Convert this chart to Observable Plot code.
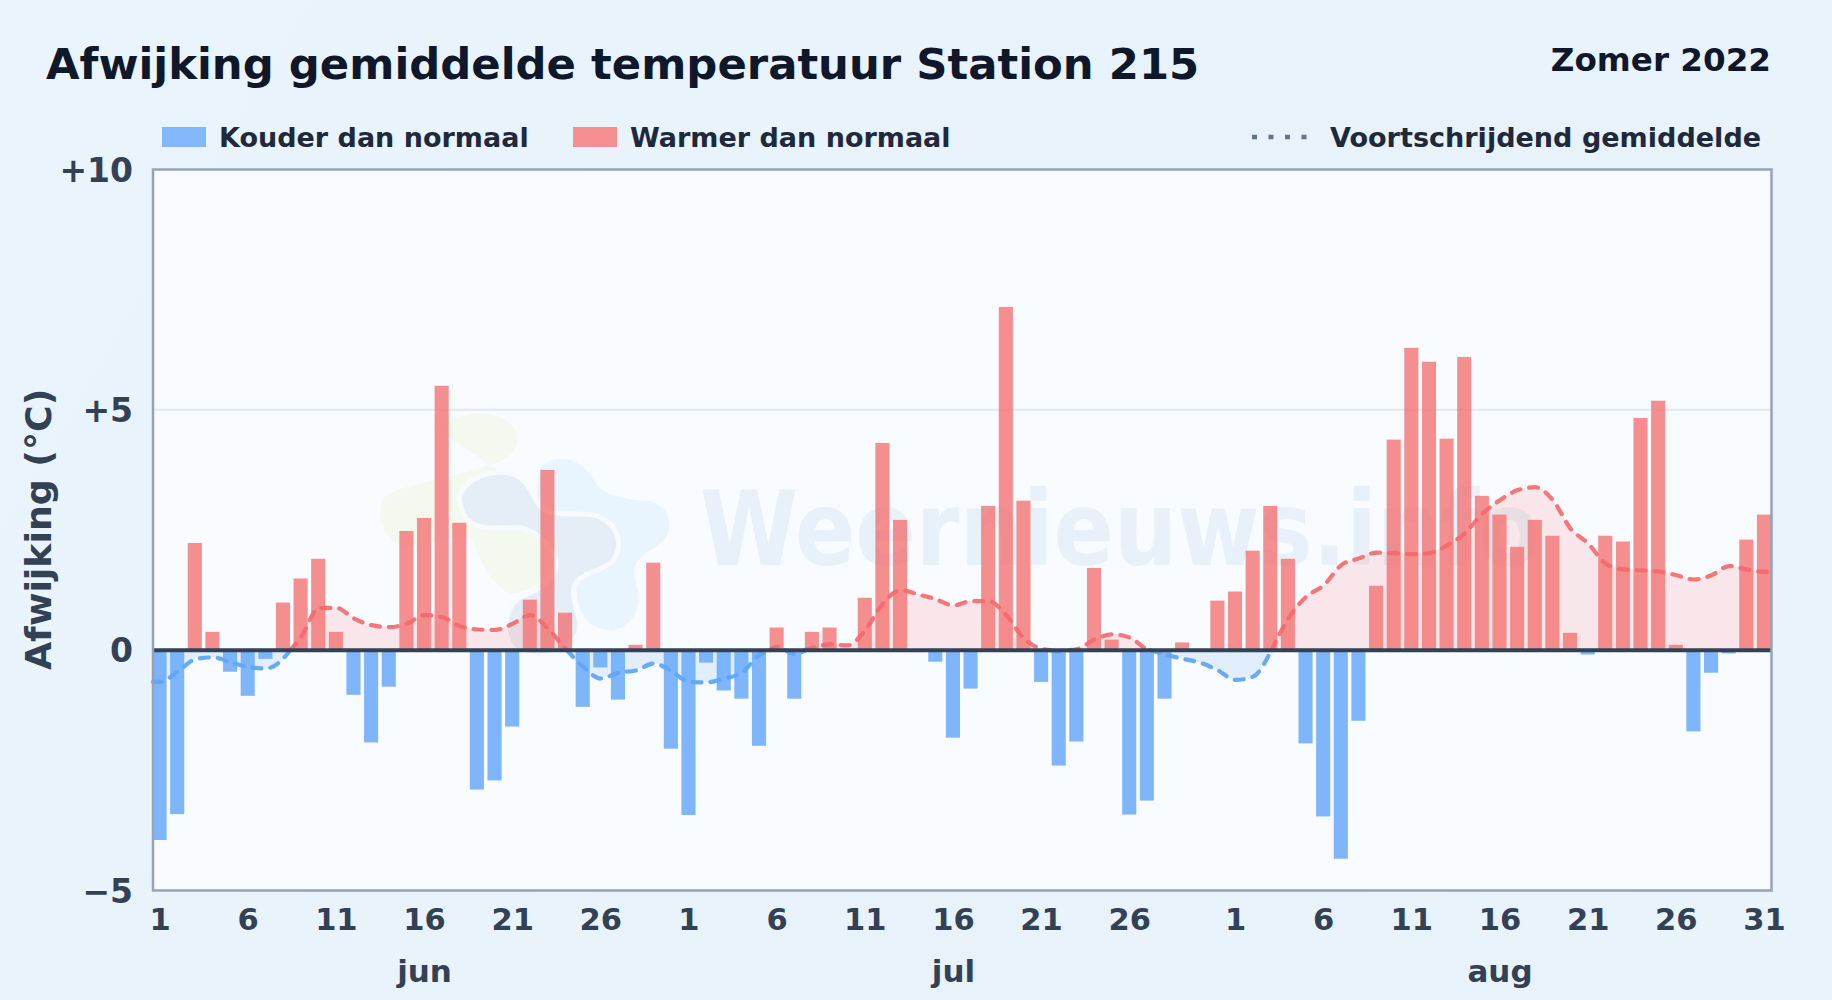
<!DOCTYPE html>
<html><head><meta charset="utf-8">
<script src="https://cdn.jsdelivr.net/npm/d3@7"></script>
<script src="https://cdn.jsdelivr.net/npm/@observablehq/plot@0.6"></script>
<style>
html,body{margin:0;padding:0;width:1832px;height:1000px;overflow:hidden;background:linear-gradient(120deg,#e9f4fc,#e7f2fb 60%,#e9f3fc);font-family:"DejaVu Sans",sans-serif;font-weight:bold}
.t{position:absolute;white-space:nowrap;line-height:1}
.sw{position:absolute;width:44px;height:20px;top:127px}
#chart{position:absolute;left:0;top:129px}
</style></head><body>
<div class="t" style="left:46px;top:43px;font-size:43.35px;color:#0f172a" id="title">Afwijking gemiddelde temperatuur Station 215</div>
<div class="t" style="right:61px;top:44px;font-size:32.6px;color:#0f172a" id="sub">Zomer 2022</div>
<div class="sw" style="left:162px;background:#82b7fb"></div>
<div class="t" style="left:219px;top:124px;font-size:27px;color:#1e293b">Kouder dan normaal</div>
<div class="sw" style="left:573px;background:#f58f90"></div>
<div class="t" style="left:630px;top:124px;font-size:27px;color:#1e293b">Warmer dan normaal</div>
<svg style="position:absolute;left:1250px;top:130px" width="60" height="14"><line x1="2" x2="58" y1="7" y2="7" stroke="#64748b" stroke-width="4.5" stroke-dasharray="5 11.5"/></svg>
<div class="t" style="left:1330px;top:124px;font-size:27.05px;color:#1e293b">Voortschrijdend gemiddelde</div>
<div id="chart"></div>
<script>
const monthNames = ["jun","jul","aug"];
const monthLengths = [30,31,31];
const tickDays = [[1,6,11,16,21,26],[1,6,11,16,21,26],[1,6,11,16,21,26,31]];
const yTicks = [10,5,0,-5];

const deviationJun = [-3.96,-3.42,2.22,0.37,-0.46,-0.96,-0.19,0.98,1.48,1.89,0.37,-0.94,-1.93,-0.77,2.47,2.74,5.49,2.64,-2.91,-2.72,-1.60,1.04,3.74,0.77,-1.19,-0.37,-1.04,0.10,1.81,-2.06];
const deviationJul = [-3.44,-0.27,-0.85,-1.02,-2.00,0.46,-1.02,0.37,0.46,0,1.08,4.30,2.70,-0.05,-0.25,-1.83,-0.81,2.99,7.13,3.10,-0.67,-2.41,-1.91,1.70,0.21,-3.43,-3.14,-1.02,0.15,0,1.02];
const deviationAug = [1.21,2.06,2.99,1.89,-1.95,-3.47,-4.35,-1.48,1.33,4.37,6.28,5.99,4.39,6.09,3.20,2.81,2.14,2.70,2.37,0.35,-0.10,2.37,2.25,4.82,5.18,0.10,-1.70,-0.48,-0.08,2.29,2.81];

const meanJun = [-0.66,-0.45,-0.19,-0.15,-0.25,-0.35,-0.38,-0.17,0.28,0.87,0.88,0.66,0.52,0.48,0.55,0.73,0.69,0.50,0.43,0.42,0.55,0.73,0.45,0.03,-0.35,-0.59,-0.47,-0.42,-0.28,-0.43];
const meanJul = [-0.66,-0.67,-0.59,-0.47,-0.10,0.07,-0.08,0.05,0.12,0.10,0.42,0.97,1.25,1.16,1.06,0.93,1.02,1.02,0.73,0.24,0.03,-0.03,0.02,0.22,0.33,0.26,0.02,-0.09,-0.18,-0.26,-0.42];
const meanAug = [-0.62,-0.55,-0.03,0.66,1.11,1.35,1.77,1.91,2.03,2.02,2.00,2.02,2.18,2.43,2.84,3.12,3.33,3.39,3.12,2.53,2.22,1.80,1.68,1.66,1.64,1.56,1.47,1.56,1.75,1.68,1.63];

const barSpan = 0.8;                       // bar width relative to the step between days
const deviations = [...deviationJun,...deviationJul,...deviationAug];
const means = [...meanJun,...meanJul,...meanAug];
const xMax = deviations.length - 1 + barSpan;
const bars = deviations.map((v,i)=>({x1:i,x2:i+barSpan,v}));
const center = i => i + barSpan/2;

// month starts
const starts = d3.cumsum([0,...monthLengths]);
const axisTicks = [], axisLabels = new Map();
tickDays.forEach((days,m)=>days.forEach(d=>{const x=center(starts[m]+d-1);axisTicks.push(x);axisLabels.set(x,String(d));}));
const monthLabels = monthNames.map((name,m)=>({name,x:center(starts[m]+15)}));

// moving average, reaching both plot edges, split into runs of one sign at each zero crossing
const raw = [{x:0,v:means[0]},...means.map((v,i)=>({x:center(i),v})),{x:xMax,v:means[means.length-1]}];
const runs = []; let seg = 0;
raw.forEach((p,i)=>{
  if(i>0){
    const q = raw[i-1];
    if(q.v*p.v<0){
      const xc = q.x + (p.x-q.x)*(-q.v)/(p.v-q.v);
      runs.push({x:xc,v:0,seg});
      seg++;
      runs.push({x:xc,v:0,seg});
    }
  }
  runs.push({x:p.x,v:p.v,seg});
});
const segPos = new Map(); runs.forEach(r=>{if(r.v!==0)segPos.set(r.seg,r.v>0)});
const warm = runs.filter(r=>segPos.get(r.seg));
const cold = runs.filter(r=>!segPos.get(r.seg));

const watermark = ()=>{
  const ns="http://www.w3.org/2000/svg";
  const g=document.createElementNS(ns,"g");
  // brand logo and name behind the data, placed in frame pixels
  g.innerHTML=`
  <text x="700" y="436" text-anchor="start" font-family="DejaVu Sans" font-weight="bold" font-size="104" fill="#e8f1f9" textLength="840" lengthAdjust="spacingAndGlyphs">Weernieuws.info</text>
  <g transform="translate(360,261) scale(0.3333)">
   <path fill="#f3f9ef" d="M235,120 C280,60 440,45 470,130 C485,205 400,225 300,250 C250,275 130,280 75,320 C40,370 70,450 130,470 C200,470 300,420 340,450 C360,520 400,590 450,610 C520,610 560,560 590,520 L500,300 Z"/>
   <path fill="#e8f4fe" d="M540,235 C570,195 660,190 700,270 C730,320 800,330 870,332 C930,350 950,420 900,460 C860,490 810,510 825,570 C850,640 830,700 760,722 C690,720 650,670 650,600 L520,400 Z"/>
   <path fill="#e5edf7" stroke="#f7fbff" stroke-width="30" paint-order="stroke" d="M305,330 C310,280 380,250 440,255 C500,265 510,320 535,355 C580,395 660,370 710,385 C770,410 785,470 750,510 C710,545 650,540 635,590 C625,640 660,680 650,725 C620,790 520,810 465,770 C430,730 440,650 490,625 C550,600 600,570 595,510 C580,460 540,420 480,405 C420,405 340,420 315,365 Z"/>
  </g>`;
  return g;
};

const curve = "monotone-x";
const dash = "9 9";
const chart = Plot.plot({
  width:1832, height:871,
  marginLeft:152.5, marginRight:61, marginTop:40, marginBottom:110,
  style:{background:"transparent",fontFamily:"DejaVu Sans",fontWeight:"bold",overflow:"visible"},
  x:{domain:[0,xMax]},
  y:{domain:[-5,10]},
  marks:[
    Plot.frame({fill:"#f8fbff",stroke:null}),
    watermark,
    Plot.ruleY([5],{stroke:"#e2e8ee",strokeWidth:2}),
    Plot.areaY(warm,{x:"x",y:"v",z:"seg",fill:"#f87171",fillOpacity:0.15,curve}),
    Plot.areaY(cold,{x:"x",y:"v",z:"seg",fill:"#60a5fa",fillOpacity:0.15,curve}),
    Plot.rectY(bars.filter(d=>d.v>0),{x1:"x1",x2:"x2",y1:0,y2:"v",fill:"#f37070",fillOpacity:0.78}),
    Plot.rectY(bars.filter(d=>d.v<0),{x1:"x1",x2:"x2",y1:0,y2:"v",fill:"#60a5fa",fillOpacity:0.8}),
    Plot.line(warm,{x:"x",y:"v",z:"seg",stroke:"#f4686c",strokeWidth:4.2,strokeDasharray:dash,strokeLinecap:"round",strokeOpacity:0.9,curve}),
    Plot.line(cold,{x:"x",y:"v",z:"seg",stroke:"#60a5fa",strokeWidth:4.2,strokeDasharray:dash,strokeLinecap:"round",strokeOpacity:0.95,curve}),
    Plot.ruleY([0],{stroke:"#334155",strokeWidth:4}),
    Plot.frame({stroke:"#94a3b8",strokeWidth:2.5}),
    Plot.axisY(yTicks,{tickSize:0,tickPadding:20,fontSize:33,dy:1.5,fill:"#334155",label:null,
      tickFormat:d=>d>0?"+"+d:d<0?"\u2212"+(-d):"0"}),
    Plot.axisX(axisTicks,{tickSize:0,tickPadding:18,fontSize:30.5,fill:"#334155",label:null,
      tickFormat:d=>axisLabels.get(d)}),
    Plot.text(monthLabels,{x:"x",text:"name",frameAnchor:"bottom",dy:91,fontSize:31,fill:"#334155"}),
    Plot.text(["Afwijking (\u00b0C)"],{frameAnchor:"left",dx:-114,dy:140,rotate:-90,fontSize:36.3,fill:"#334155",text:d=>d})
  ]
});
document.getElementById("chart").append(chart);
</script>
</body></html>
